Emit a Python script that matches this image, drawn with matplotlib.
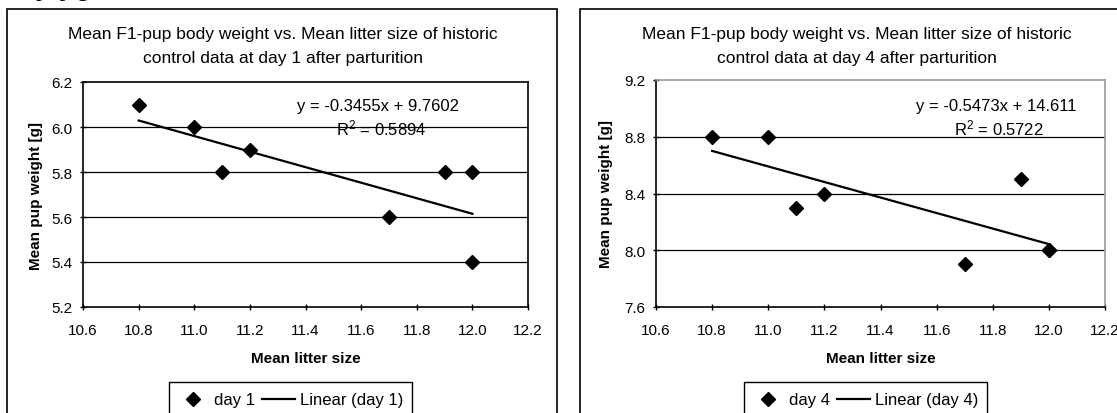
import numpy as np
import matplotlib
matplotlib.use('Agg')
import matplotlib.pyplot as plt
from matplotlib.patches import Rectangle
from matplotlib.lines import Line2D

plt.rcParams['font.family'] = ['Liberation Sans', 'DejaVu Sans']

# data
litter_d1 = [10.8, 11.0, 11.1, 11.2, 11.7, 11.9, 12.0, 12.0]
weight_d1 = [6.1, 6.0, 5.8, 5.9, 5.6, 5.8, 5.8, 5.4]
litter_d4 = [10.8, 11.0, 11.1, 11.2, 11.7, 11.9, 12.0, 12.0]
weight_d4 = [8.8, 8.8, 8.3, 8.4, 7.9, 8.5, 8.0, 8.0]

x_ticks = [10.6, 10.8, 11.0, 11.2, 11.4, 11.6, 11.8, 12.0, 12.2]
y_ticks_d1 = [5.2, 5.4, 5.6, 5.8, 6.0, 6.2]
y_ticks_d4 = [7.6, 8.0, 8.4, 8.8, 9.2]

eq_d1 = ['y = -0.3455x + 9.7602', '$\\mathregular{R^2}$ = 0.5894']
eq_d4 = ['y = -0.5473x + 14.611', '$\\mathregular{R^2}$ = 0.5722']

W, H = 1117, 414
fig = plt.figure(figsize=(W / 100, H / 100), dpi=100)
fig.patch.set_facecolor('white')


def fx(px):
    return px / W


def fy(py):
    return 1 - py / H


# stray text from the page above the charts (cut off like in the source)
fig.text(fx(36), fy(-4), 'pup g', family='Liberation Serif', fontsize=17,
         va='baseline', ha='left')

# outer chart boxes
fig.patches.append(Rectangle((fx(7), fy(440)), fx(557) - fx(7), fy(10) - fy(440),
                             transform=fig.transFigure, fill=False, lw=1.2,
                             ec='black'))
fig.patches.append(Rectangle((fx(580), fy(440)), fx(1140) - fx(580), fy(10) - fy(440),
                             transform=fig.transFigure, fill=False, lw=1.2,
                             ec='black'))


def panel(rect, xs, ys, yticks, day, eq, eq_x, title_x, ylab_x, leg_rect, gray_frame):
    ax = fig.add_axes(rect)
    ax.set_xlim(x_ticks[0], x_ticks[-1])
    ax.set_ylim(yticks[0], yticks[-1])
    ax.set_xticks(x_ticks)
    ax.set_yticks(yticks)
    ax.set_xticklabels(['%.1f' % v for v in x_ticks], fontsize=11)
    ax.set_yticklabels(['%.1f' % v for v in yticks], fontsize=11)
    ax.tick_params(direction='inout', length=5, width=1)
    ax.tick_params(axis='x', pad=9)
    ax.tick_params(axis='y', pad=5)
    for v in yticks[1:-1]:
        ax.axhline(v, color='black', lw=0.9, zorder=1)
    for s in ['left', 'bottom']:
        ax.spines[s].set_linewidth(1.2)
    for s in ['top', 'right']:
        ax.spines[s].set_linewidth(1.2)
        if gray_frame:
            ax.spines[s].set_color('#9a9a9a')

    ax.plot(xs, ys, 'D', color='black', ms=7, zorder=3, clip_on=False)
    k, b = np.polyfit(xs, ys, 1)
    lx = np.array([min(xs), max(xs)])
    ax.plot(lx, k * lx + b, color='black', lw=1.6, zorder=2)

    ax.set_xlabel('Mean litter size', fontsize=11, fontweight='bold', labelpad=10)
    fig.text(ylab_x, rect[1] + rect[3] / 2, 'Mean pup weight [g]', rotation=90,
             fontsize=11, fontweight='bold', ha='center', va='center')

    fig.text(title_x, fy(35),
             'Mean F1-pup body weight vs. Mean litter size of historic',
             fontsize=12.5, ha='center', va='center')
    fig.text(title_x, fy(58), 'control data at day %d after parturition' % day,
             fontsize=12.5, ha='center', va='center')

    fig.text(eq_x, fy(107), eq[0], fontsize=12, ha='center', va='center')
    fig.text(eq_x + fx(3), fy(128), eq[1], fontsize=12, ha='center', va='center')

    # legend box
    fig.patches.append(Rectangle((leg_rect[0], leg_rect[1]), leg_rect[2], leg_rect[3],
                                 transform=fig.transFigure, fill=False, lw=1,
                                 ec='black'))
    handles = [Line2D([], [], ls='none', marker='D', color='black', ms=7),
               Line2D([], [], color='black', lw=1.6)]
    fig.legend(handles, ['day %d' % day, 'Linear (day %d)' % day],
               loc='center', bbox_to_anchor=(leg_rect[0] + leg_rect[2] / 2 - fx(1), fy(401)),
               ncol=2, frameon=False, fontsize=12, handlelength=2.0,
               handletextpad=0.25, columnspacing=0.45, borderaxespad=0)
    return ax


panel([fx(83), fy(308), fx(528) - fx(83), fy(83) - fy(308)],
      litter_d1, weight_d1, y_ticks_d1, 1, eq_d1, fx(378), fx(283), fx(36),
      [fx(169), fy(420), fx(412) - fx(169), fy(383) - fy(420)], False)
panel([fx(656), fy(308), fx(1105) - fx(656), fy(81) - fy(308)],
      litter_d4, weight_d4, y_ticks_d4, 4, eq_d4, fx(996), fx(857), fx(606),
      [fx(744), fy(420), fx(987) - fx(744), fy(383) - fy(420)], True)

fig.savefig('out.png', dpi=100)
